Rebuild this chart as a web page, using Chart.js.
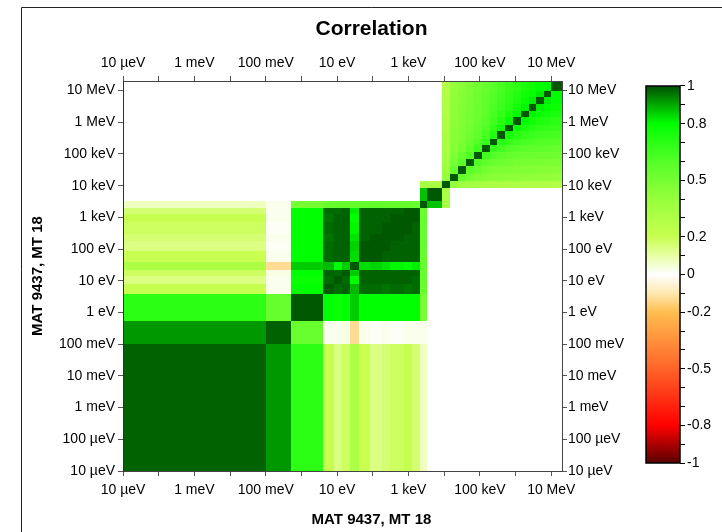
<!DOCTYPE html>
<html><head><meta charset="utf-8">
<script src="https://cdn.jsdelivr.net/npm/chart.js@4.4.1/dist/chart.umd.min.js"></script>
<style>html,body{margin:0;padding:0;background:#fff}canvas{display:block}</style>
</head><body>
<canvas id="c" width="722" height="532"></canvas>
<script>
// Energy group boundaries (eV)
const groupEdges = [1e-5, 0.1, 0.52, 3.9, 8, 13.7, 22.3, 40, 85, 181, 308, 728, 1250, 2040, 3300,
  8700, 14200, 23800, 40800, 67000, 114000, 187000, 302000, 515000, 845000, 1420000, 2310000, 3800000, 6100000, 1e7, 2e7];

// Lower triangle of correlation matrix, thermal + resonance groups (G0..G14)
const thermalLower = [
  [0.98],
  [0.92, 0.98],
  [0.70, 0.54, 0.99],
  [0.21, 0.02, 0.80, 0.99],
  [0.14, 0.02, 0.78, 0.97, 0.99],
  [0.18, 0.03, 0.80, 0.98, 0.97, 0.99],
  [0.31, -0.13, 0.86, 0.88, 0.80, 0.86, 0.99],
  [0.20, 0.02, 0.80, 0.97, 0.98, 0.98, 0.84, 0.99],
  [0.14, 0.01, 0.80, 0.97, 0.98, 0.98, 0.85, 0.99, 0.99],
  [0.16, 0.02, 0.80, 0.96, 0.98, 0.98, 0.83, 0.98, 0.99, 0.99],
  [0.18, 0.01, 0.80, 0.97, 0.98, 0.98, 0.81, 0.98, 0.98, 0.99, 0.99],
  [0.21, 0.02, 0.80, 0.96, 0.98, 0.98, 0.80, 0.98, 0.98, 0.98, 0.99, 0.99],
  [0.16, 0.02, 0.80, 0.97, 0.97, 0.98, 0.82, 0.98, 0.98, 0.98, 0.98, 0.99, 0.99],
  [0.07, 0.02, 0.50, 0.54, 0.55, 0.55, 0.56, 0.55, 0.56, 0.55, 0.55, 0.55, 0.54, 0.99],
  [0, 0, 0, 0, 0, 0, 0, 0, 0, 0, 0, 0, 0, 0.87, 0.99]
];

// Correlation of the first fast group (F0) with thermal groups G0..G14
const crossFirstFast = [0, 0, 0, 0, 0, 0, 0, 0, 0, 0, 0, 0, 0, 0.33, 0.33];

// Lower triangle, fast groups (F0..F14)
const fastLower = [
  [0.99],
  [0.40, 0.99],
  [0.37, 0.55, 0.99],
  [0.35, 0.50, 0.58, 0.99],
  [0.34, 0.47, 0.54, 0.62, 0.99],
  [0.33, 0.45, 0.50, 0.57, 0.65, 0.99],
  [0.32, 0.44, 0.48, 0.54, 0.60, 0.68, 0.99],
  [0.32, 0.44, 0.47, 0.52, 0.57, 0.64, 0.72, 0.99],
  [0.31, 0.43, 0.47, 0.51, 0.55, 0.61, 0.68, 0.75, 0.99],
  [0.31, 0.43, 0.46, 0.50, 0.54, 0.59, 0.65, 0.71, 0.78, 0.99],
  [0.30, 0.42, 0.46, 0.50, 0.53, 0.58, 0.63, 0.68, 0.74, 0.80, 0.99],
  [0.30, 0.42, 0.46, 0.49, 0.53, 0.57, 0.62, 0.66, 0.71, 0.76, 0.81, 0.99],
  [0.30, 0.42, 0.45, 0.49, 0.52, 0.57, 0.61, 0.65, 0.69, 0.73, 0.78, 0.82, 0.99],
  [0.29, 0.41, 0.45, 0.48, 0.52, 0.56, 0.60, 0.64, 0.68, 0.72, 0.76, 0.79, 0.82, 0.99],
  [0.28, 0.40, 0.44, 0.48, 0.51, 0.55, 0.59, 0.63, 0.67, 0.70, 0.74, 0.77, 0.80, 0.80, 0.99]
];

const energyTicks = [1e-5, 1e-4, 1e-3, 1e-2, 1e-1, 1, 10, 100, 1e3, 1e4, 1e5, 1e6, 1e7];
const xAxisLabels = ['10 µeV', '', '1 meV', '', '100 meV', '', '10 eV', '', '1 keV', '', '100 keV', '', '10 MeV'];
const yAxisLabels = ['10 µeV', '100 µeV', '1 meV', '10 meV', '100 meV', '1 eV', '10 eV', '100 eV', '1 keV', '10 keV', '100 keV', '1 MeV', '10 MeV'];

const cbTicks = [-1, -0.9, -0.8, -0.7, -0.6, -0.5, -0.4, -0.3, -0.2, -0.1, 0, 0.1, 0.2, 0.3, 0.4, 0.5, 0.6, 0.7, 0.8, 0.9, 1];
const cbTickLabels = ['-1', '', '-0.8', '', '', '-0.5', '', '', '-0.2', '', '0', '', '0.2', '', '', '0.5', '', '', '0.8', '', '1'];

const cbStops = [-1, -0.8, -0.5, -0.2, -0.1, 0, 0.1, 0.2, 0.4, 0.6, 0.8, 0.9, 1];
const cbColors = [[90,0,0],[255,0,0],[255,100,40],[255,190,80],[255,232,175],[255,255,255],
  [232,255,165],[200,255,80],[150,255,60],[85,255,40],[0,255,0],[0,170,0],[0,80,0]];

const nThermal = thermalLower.length;
function corr(i, j) {
  if (i < j) { const t = i; i = j; j = t; }
  if (i < nThermal) return thermalLower[i][j];
  const fi = i - nThermal;
  if (j < nThermal) return fi === 0 ? crossFirstFast[j] : 0;
  return fastLower[fi][j - nThermal];
}
function colorFor(v) {
  if (v <= cbStops[0]) return 'rgb(' + cbColors[0].join(',') + ')';
  for (let k = 1; k < cbStops.length; k++) {
    if (v <= cbStops[k]) {
      const t = (v - cbStops[k-1]) / (cbStops[k] - cbStops[k-1]);
      const a = cbColors[k-1], b = cbColors[k];
      return 'rgb(' + a.map((c, m) => Math.round(c + (b[m] - c) * t)).join(',') + ')';
    }
  }
  return 'rgb(' + cbColors[cbColors.length-1].join(',') + ')';
}

const heatmapPlugin = {
  id: 'heatmap',
  beforeDraw(chart) {
    const ctx = chart.ctx, a = chart.chartArea;
    const xs = chart.scales.x, ys = chart.scales.y, cb = chart.scales.cb;
    ctx.save();
    ctx.fillStyle = '#fff';
    ctx.fillRect(0, 0, chart.width, chart.height);
    // frame
    ctx.strokeStyle = '#222'; ctx.lineWidth = 1;
    ctx.beginPath(); ctx.moveTo(21.5, chart.height); ctx.lineTo(21.5, 7.5); ctx.lineTo(chart.width, 7.5); ctx.stroke();
    // cells
    ctx.save();
    ctx.beginPath(); ctx.rect(a.left, a.top, a.right - a.left, a.bottom - a.top); ctx.clip();
    const n = groupEdges.length - 1;
    for (let i = 0; i < n; i++) {
      const x0 = Math.round(xs.getPixelForValue(groupEdges[i]));
      const x1 = Math.round(xs.getPixelForValue(groupEdges[i+1]));
      for (let j = 0; j < n; j++) {
        const v = corr(i, j);
        if (v === 0) continue;
        const y0 = Math.round(ys.getPixelForValue(groupEdges[j+1]));
        const y1 = Math.round(ys.getPixelForValue(groupEdges[j]));
        ctx.fillStyle = colorFor(v);
        ctx.fillRect(x0, y0, x1 - x0, y1 - y0);
      }
    }
    ctx.restore();
    // colour bar
    const bx1 = cb.left, bx0 = cb.left - 34;
    const yTop = cb.getPixelForValue(1), yBot = cb.getPixelForValue(-1);
    const g = ctx.createLinearGradient(0, yBot, 0, yTop);
    cbStops.forEach((s, k) => g.addColorStop((s + 1) / 2, 'rgb(' + cbColors[k].join(',') + ')'));
    ctx.fillStyle = g;
    ctx.fillRect(bx0, yTop, bx1 - bx0, yBot - yTop);
    ctx.strokeStyle = '#000'; ctx.lineWidth = 1.5;
    ctx.strokeRect(bx0, yTop, bx1 - bx0, yBot - yTop);
    ctx.restore();
  }
};

Chart.defaults.font.family = '"Liberation Sans", Arial, sans-serif';
Chart.defaults.color = '#000';

const decadeTicks = s => { s.ticks = energyTicks.map(v => ({ value: v })); };
const axisGrid = { drawOnChartArea: false, drawTicks: true, tickLength: 5, color: '#555' };

new Chart(document.getElementById('c'), {
  type: 'scatter',
  data: { datasets: [{ data: [], xAxisID: 'x', yAxisID: 'y' }] },
  options: {
    responsive: false,
    devicePixelRatio: 1,
    animation: false,
    layout: { padding: { left: 21, top: 7, right: 0, bottom: 0 } },
    plugins: {
      legend: { display: false },
      tooltip: { enabled: false },
      title: { display: true, text: 'Correlation', color: '#000',
        font: { size: 21, weight: 'bold' }, padding: { top: 10, bottom: 0 } },
      subtitle: { display: true, position: 'bottom', text: 'MAT 9437, MT 18', color: '#000',
        font: { size: 15, weight: 'bold' }, padding: { top: 0, bottom: 3 } }
    },
    scales: {
      x: { type: 'logarithmic', axis: 'x', position: 'bottom', min: 1e-5, max: 2e7, bounds: 'data',
        afterBuildTicks: decadeTicks, afterFit: s => { s.height = 40; },
        grid: axisGrid, border: { color: '#444' },
        ticks: { autoSkip: false, maxRotation: 0, padding: 6, font: { size: 14 }, callback: (v, i) => xAxisLabels[i] } },
      x2: { type: 'logarithmic', axis: 'x', position: 'top', min: 1e-5, max: 2e7, bounds: 'data',
        afterBuildTicks: decadeTicks, afterFit: s => { s.height = 38.8; },
        grid: axisGrid, border: { color: '#444' },
        ticks: { autoSkip: false, maxRotation: 0, padding: 4, font: { size: 14 }, callback: (v, i) => xAxisLabels[i] } },
      y: { type: 'logarithmic', axis: 'y', position: 'left', min: 1e-5, max: 2e7, bounds: 'data',
        afterBuildTicks: decadeTicks, afterFit: s => { s.width = 102; },
        grid: axisGrid, border: { color: '#333' },
        title: { display: true, text: 'MAT 9437, MT 18', color: '#000', font: { size: 15, weight: 'bold' }, padding: { top: 8, bottom: 0 } },
        ticks: { autoSkip: false, padding: 3, font: { size: 14 }, callback: (v, i) => yAxisLabels[i] } },
      y2: { type: 'logarithmic', axis: 'y', position: 'right', weight: 0, min: 1e-5, max: 2e7, bounds: 'data',
        afterBuildTicks: decadeTicks, afterFit: s => { s.width = 118; },
        grid: axisGrid, border: { color: '#444' },
        ticks: { autoSkip: false, padding: 1, font: { size: 14 }, callback: (v, i) => yAxisLabels[i] } },
      cb: { type: 'linear', axis: 'y', position: 'right', weight: 1, min: -1.0424, max: 1.0265, bounds: 'data',
        afterBuildTicks: s => { s.ticks = cbTicks.map(v => ({ value: v })); },
        afterFit: s => { s.width = 42; },
        grid: { drawOnChartArea: false, drawTicks: true, tickLength: 5, color: '#000' },
        border: { display: false },
        ticks: { autoSkip: false, padding: 2, font: { size: 14 }, callback: (v, i) => cbTickLabels[i] } }
    }
  },
  plugins: [heatmapPlugin]
});
</script>
</body></html>
